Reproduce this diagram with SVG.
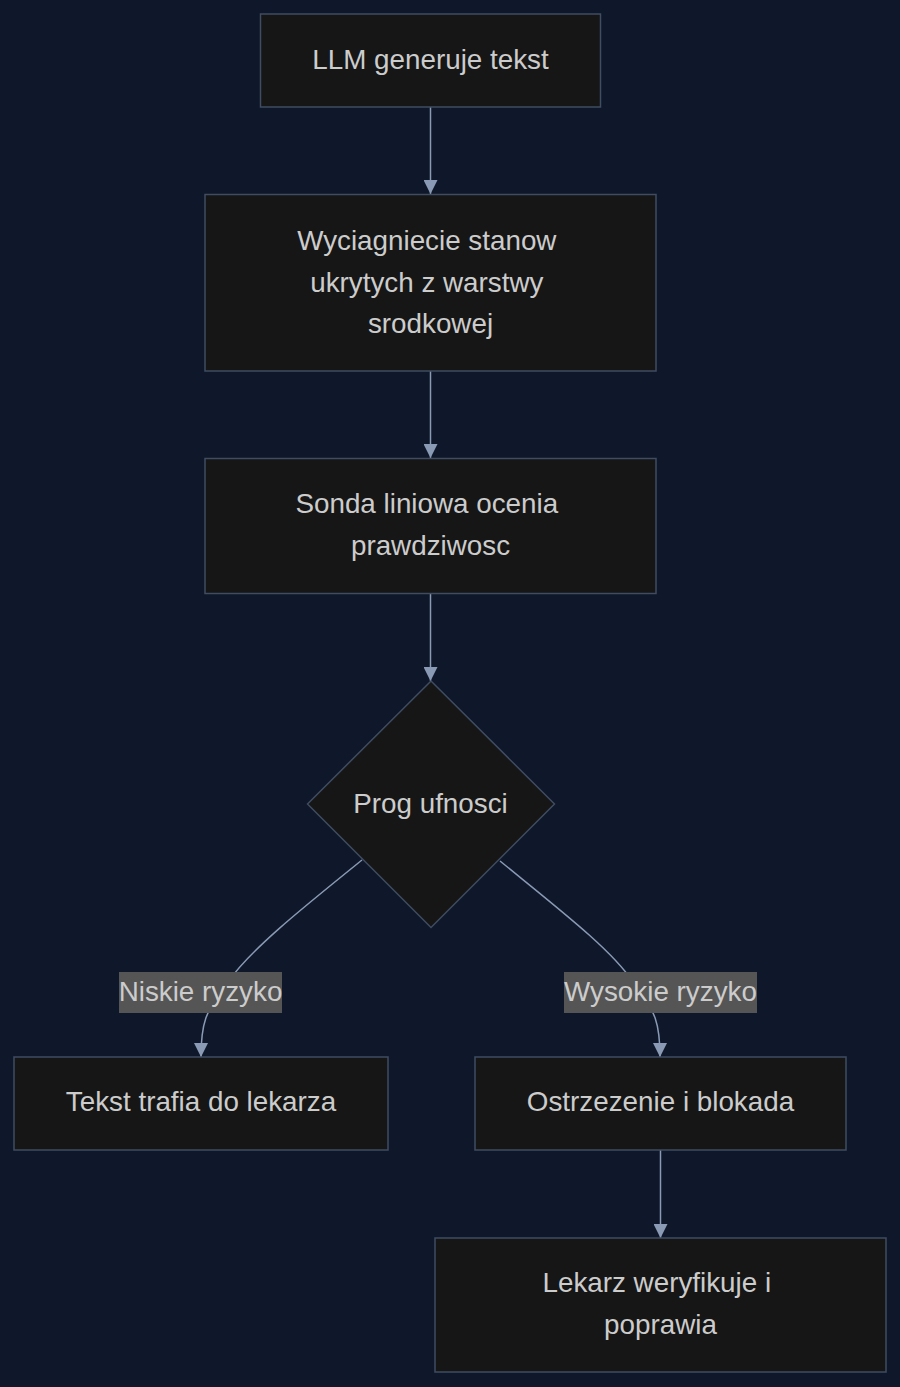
<svg xmlns="http://www.w3.org/2000/svg" width="900" height="1387" viewBox="0 0 900 1387">
<style>
.node rect, .node polygon { fill: #161616; stroke: #3f4c61; stroke-width: 1.5; }
text { font-family: "Liberation Sans", Arial, sans-serif; font-size: 27.8px; fill: #cccccc; text-anchor: middle; }
.edge { fill: none; stroke: #8a9ab4; stroke-width: 1.5; marker-end: url(#arrow); }
.lbl rect { fill: #555555; }
</style>
<defs>
<marker id="arrow" viewBox="0 0 10 10" refX="10" refY="5" markerUnits="userSpaceOnUse" markerWidth="14" markerHeight="14" orient="auto">
<path d="M0,0 L10,5 L0,10 z" fill="#8a9ab4"/>
</marker>
</defs>
<rect width="900" height="1387" fill="#0f172a"/>
<g id="connectors">
<path class="edge" d="M430.5,107 L430.5,194"/>
<path class="edge" d="M430.5,371 L430.5,458"/>
<path class="edge" d="M430.5,593 L430.5,681"/>
<path class="edge" d="M362,860 C300,910 250,950 228,982 C205,1010 201,1025 201,1057"/>
<path class="edge" d="M500,861 C560,910 612,950 633,982 C656,1010 660,1025 660,1057"/>
<path class="edge" d="M660.5,1150 L660.5,1238"/>
<g class="lbl" id="label-niskie"><rect x="119" y="972" width="163" height="41"/><text x="200.5" y="1000.5">Niskie ryzyko</text></g>
<g class="lbl" id="label-wysokie"><rect x="564" y="972" width="193" height="41"/><text x="660.5" y="1000.5">Wysokie ryzyko</text></g>
</g>
<g class="node" id="n1"><rect x="260.5" y="14" width="340" height="93"/><text x="430.5" y="69">LLM generuje tekst</text></g>
<g class="node" id="n2"><rect x="205" y="194.5" width="451" height="176.5"/><text x="426.8" y="250">Wyciagniecie stanow</text><text x="426.8" y="291.5">ukrytych z warstwy</text><text x="430.5" y="333">srodkowej</text></g>
<g class="node" id="n3"><rect x="205" y="458.5" width="451" height="135"/><text x="426.8" y="513">Sonda liniowa ocenia</text><text x="430.5" y="554.5">prawdziwosc</text></g>
<g class="node" id="n4"><polygon points="431,681 554.5,804 431,927.5 307.5,804"/><text x="430.5" y="813">Prog ufnosci</text></g>
<g class="node" id="n5"><rect x="14" y="1057" width="374" height="93"/><text x="201" y="1111">Tekst trafia do lekarza</text></g>
<g class="node" id="n6"><rect x="475" y="1057" width="371" height="93"/><text x="660.5" y="1111">Ostrzezenie i blokada</text></g>
<g class="node" id="n7"><rect x="435" y="1238" width="451" height="134"/><text x="656.8" y="1292">Lekarz weryfikuje i</text><text x="660.5" y="1334">poprawia</text></g>
</svg>
